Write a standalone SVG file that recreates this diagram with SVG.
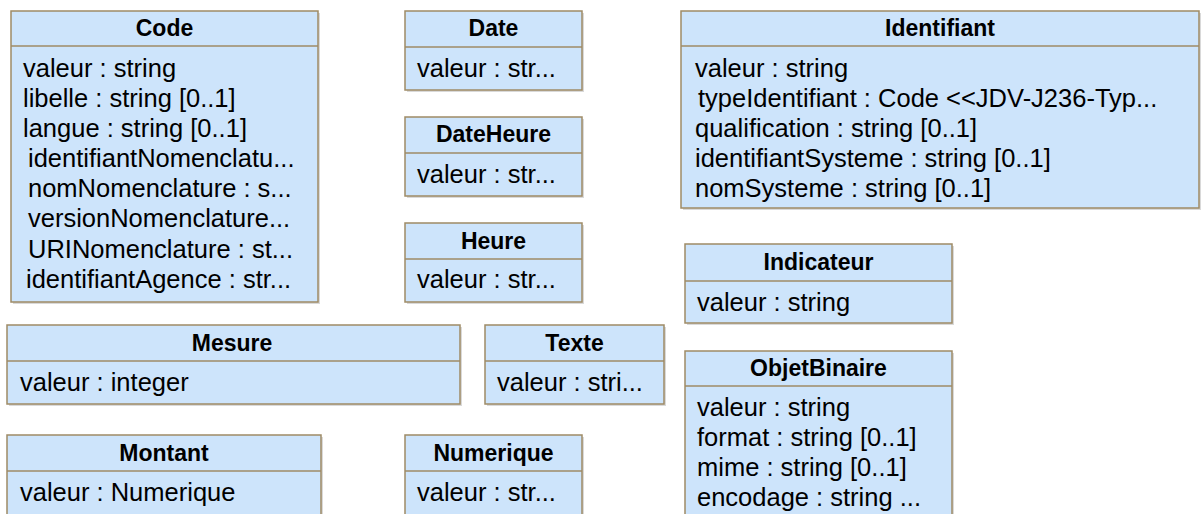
<svg xmlns="http://www.w3.org/2000/svg" width="1201" height="514" viewBox="0 0 1201 514">
<style>
.sh{fill:#b4b4b4;opacity:0.5}
.box{fill:#cde4fb;stroke:#9e8b66;stroke-width:1.5}
.div{stroke:#9e8b66;stroke-width:1.5}
.t{font-family:"Liberation Sans",Arial,sans-serif;font-weight:bold;font-size:23px;fill:#000;text-anchor:middle}
.a{font-family:"Liberation Sans",Arial,sans-serif;font-size:25.5px;fill:#000;white-space:pre}
</style>
<rect width="1201" height="514" fill="#fff"/>
<g id="Code">
<rect class="sh" x="13" y="13" width="307" height="291"/>
<rect class="box" x="11" y="11" width="307" height="291"/>
<line class="div" x1="11" y1="46" x2="318" y2="46"/>
<text class="t" x="164.5" y="36">Code</text>
<text class="a" x="23" y="77">valeur : string</text>
<text class="a" x="23" y="107">libelle : string [0..1]</text>
<text class="a" x="23" y="137">langue : string [0..1]</text>
<text class="a" x="28" y="167">identifiantNomenclatu...</text>
<text class="a" x="28" y="197">nomNomenclature : s...</text>
<text class="a" x="28" y="227">versionNomenclature...</text>
<text class="a" x="28" y="258">URINomenclature : st...</text>
<text class="a" x="26" y="288">identifiantAgence : str...</text>
</g>
<g id="Date">
<rect class="sh" x="407" y="13" width="177" height="79"/>
<rect class="box" x="405" y="11" width="177" height="79"/>
<line class="div" x1="405" y1="47" x2="582" y2="47"/>
<text class="t" x="493.5" y="36">Date</text>
<text class="a" x="417" y="77">valeur : str...</text>
</g>
<g id="DateHeure">
<rect class="sh" x="407" y="119" width="177" height="79"/>
<rect class="box" x="405" y="117" width="177" height="79"/>
<line class="div" x1="405" y1="153" x2="582" y2="153"/>
<text class="t" x="493.5" y="142">DateHeure</text>
<text class="a" x="417" y="183">valeur : str...</text>
</g>
<g id="Heure">
<rect class="sh" x="407" y="225" width="177" height="79"/>
<rect class="box" x="405" y="223" width="177" height="79"/>
<line class="div" x1="405" y1="259" x2="582" y2="259"/>
<text class="t" x="493.5" y="249">Heure</text>
<text class="a" x="417" y="288">valeur : str...</text>
</g>
<g id="Identifiant">
<rect class="sh" x="683" y="13" width="518" height="197"/>
<rect class="box" x="681" y="11" width="518" height="197"/>
<line class="div" x1="681" y1="46" x2="1199" y2="46"/>
<text class="t" x="940" y="36">Identifiant</text>
<text class="a" x="695" y="77">valeur : string</text>
<text class="a" x="698" y="107">typeIdentifiant : Code &lt;&lt;JDV-J236-Typ...</text>
<text class="a" x="695" y="137">qualification : string [0..1]</text>
<text class="a" x="695" y="167">identifiantSysteme : string [0..1]</text>
<text class="a" x="695" y="197">nomSysteme : string [0..1]</text>
</g>
<g id="Indicateur">
<rect class="sh" x="687" y="246" width="267" height="79"/>
<rect class="box" x="685" y="244" width="267" height="79"/>
<line class="div" x1="685" y1="281" x2="952" y2="281"/>
<text class="t" x="818.5" y="270">Indicateur</text>
<text class="a" x="697" y="311">valeur : string</text>
</g>
<g id="ObjetBinaire">
<rect class="sh" x="687" y="353" width="267" height="170"/>
<rect class="box" x="685" y="351" width="267" height="170"/>
<line class="div" x1="685" y1="386" x2="952" y2="386"/>
<text class="t" x="818.5" y="376">ObjetBinaire</text>
<text class="a" x="697" y="416">valeur : string</text>
<text class="a" x="697" y="446">format : string [0..1]</text>
<text class="a" x="697" y="476">mime : string [0..1]</text>
<text class="a" x="697" y="506">encodage : string ...</text>
</g>
<g id="Mesure">
<rect class="sh" x="9" y="327" width="453" height="79"/>
<rect class="box" x="7" y="325" width="453" height="79"/>
<line class="div" x1="7" y1="361" x2="460" y2="361"/>
<text class="t" x="232" y="351">Mesure</text>
<text class="a" x="20" y="391">valeur : integer</text>
</g>
<g id="Texte">
<rect class="sh" x="487" y="327" width="179" height="79"/>
<rect class="box" x="485" y="325" width="179" height="79"/>
<line class="div" x1="485" y1="361" x2="664" y2="361"/>
<text class="t" x="574.5" y="351">Texte</text>
<text class="a" x="497" y="391">valeur : stri...</text>
</g>
<g id="Montant">
<rect class="sh" x="9" y="437" width="314" height="90"/>
<rect class="box" x="7" y="435" width="314" height="90"/>
<line class="div" x1="7" y1="471" x2="321" y2="471"/>
<text class="t" x="164" y="461">Montant</text>
<text class="a" x="20" y="501">valeur : Numerique</text>
</g>
<g id="Numerique">
<rect class="sh" x="407" y="437" width="177" height="90"/>
<rect class="box" x="405" y="435" width="177" height="90"/>
<line class="div" x1="405" y1="471" x2="582" y2="471"/>
<text class="t" x="493.5" y="461">Numerique</text>
<text class="a" x="417" y="501">valeur : str...</text>
</g>
<g id="connectors"/>
</svg>
